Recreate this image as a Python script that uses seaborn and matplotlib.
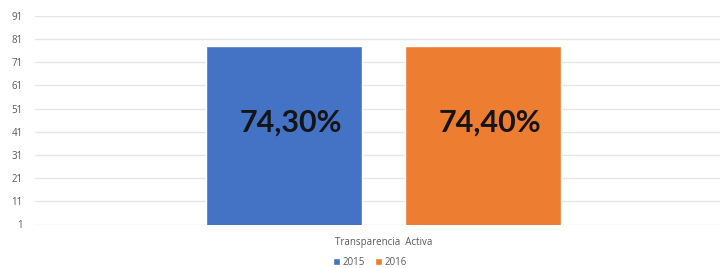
import numpy as np
import matplotlib.pyplot as plt
import seaborn as sns
import pandas as pd

# data
categories = ['Transparencia  Activa']
years = ['2015', '2016']
heights = [78.2, 78.2]
bar_labels = ['74,30%', '74,40%']
yticks = [1, 11, 21, 31, 41, 51, 61, 71, 81, 91]
colors = ['#4472C4', '#ED7D31']

df = pd.DataFrame({'cat': categories * 2, 'year': years, 'value': heights})

sns.set_style('white')
plt.rcParams['font.family'] = ['Open Sans', 'DejaVu Sans']

fig = plt.figure(figsize=(7.2, 2.68), dpi=100)
ax = fig.add_axes([35 / 720, 1 - 224.5 / 268, 685 / 720, (224.5 - 16) / 268])

plot = sns.barplot(data=df, x='cat', y='value', hue='year', palette=colors,
                   width=0.8, gap=0.216, saturation=1, ax=ax, legend=True)

ax.set_ylim(1, 91)
ax.set_yticks(yticks)
ax.set_yticklabels([str(t) for t in yticks], fontsize=7, color='#595959')
ax.set_xlim(-0.7005, 0.676)
ax.grid(axis='y', color='#e6e6e6', linewidth=1)
ax.set_axisbelow(True)
for s in ax.spines.values():
    s.set_visible(False)
ax.tick_params(axis='y', length=0, pad=9)
ax.tick_params(axis='x', length=0, pad=9, labelsize=7, labelcolor='#595959')
ax.set_xlabel('')
ax.set_ylabel('')

# big value labels in the bars, sitting a bit above the middle
for cont, lab in zip(ax.containers, bar_labels):
    anns = ax.bar_label(cont, labels=[lab], label_type='center', fontsize=22,
                        color='#151515', fontweight='bold', family=['Lato', 'DejaVu Sans'])
    for a in anns:
        a.xyann = (5, 9)

leg = ax.legend(loc='center', bbox_to_anchor=(0.489, -0.18), ncol=2, frameon=False,
                fontsize=7, handlelength=0.7, handleheight=0.7, handletextpad=0.3,
                columnspacing=1.0)
for t in leg.get_texts():
    t.set_color('#595959')

plt.savefig('out.png', dpi=100)
